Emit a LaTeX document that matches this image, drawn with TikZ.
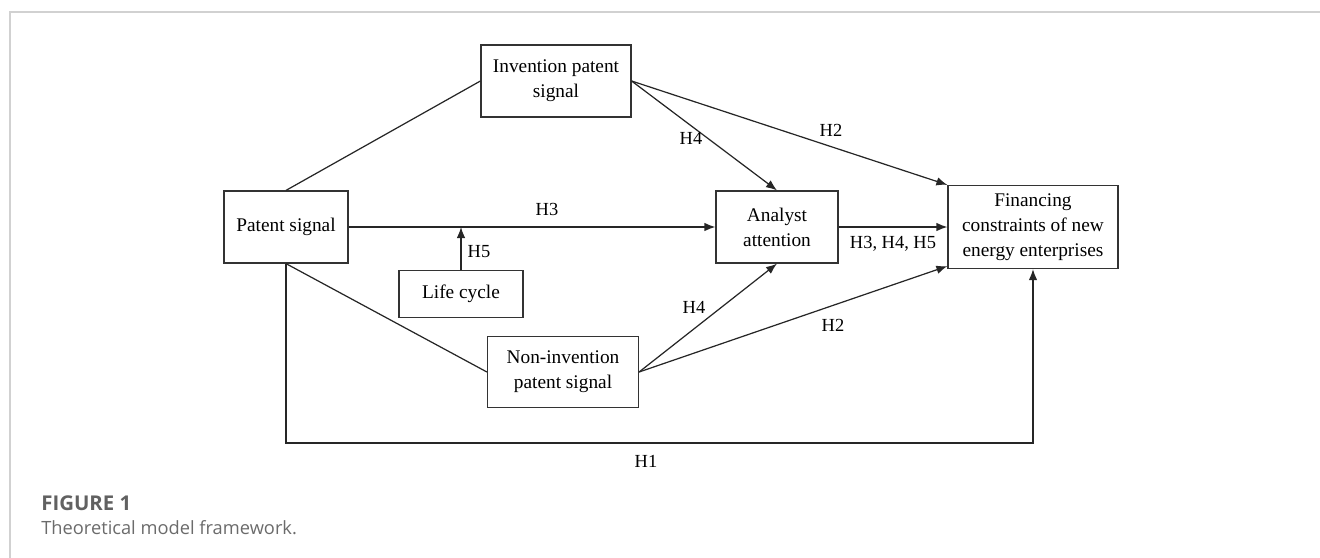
\documentclass[tikz,border=0pt]{standalone}
\usepackage{fontspec}
\setmainfont{Liberation Serif}
\newfontfamily\capfont{Open Sans}
\usetikzlibrary{arrows.meta}

\tikzset{
  box/.style={draw=black!80, line width=0.7pt, align=center, inner sep=2pt,
    font=\fontsize{11}{14.2}\selectfont},
  hyp/.style={font=\fontsize{10.5}{12}\selectfont, inner sep=1pt},
  link/.style={draw=black!85, line width=0.7pt},
  arr/.style={link, -{Latex[length=2.2mm,width=1.7mm]}},
}

\begin{document}
\begin{tikzpicture}[x=0.02cm, y=-0.02cm]
    \useasboundingbox (0,0) rectangle (1320,558);
    \draw[black!18, line width=0.6pt] (10,558) -- (10,12) -- (1320,12);

    % boxes
    \node[box, minimum width=2.48cm, minimum height=1.44cm] (ps) at (286,227) {Patent signal};
    \node[box, minimum width=3.0cm, minimum height=1.44cm] (inv) at (556,81) {Invention patent\\signal};
    \node[box, minimum width=2.44cm, minimum height=1.44cm] (ana) at (777,227) {Analyst\\attention};
    \node[box, minimum width=3.4cm, minimum height=1.66cm] (fin) at (1033,227) {Financing\\constraints of new\\energy enterprises};
    \node[box, minimum width=2.48cm, minimum height=0.94cm] (lc) at (461,294) {Life cycle};
    \node[box, minimum width=3.02cm, minimum height=1.42cm] (non) at (563,372) {Non-invention\\patent signal};

    \coordinate (mod) at (lc.north |- ps.east);
    \coordinate (low) at (646,443);

    % connectors
    \draw[link] (ps.north) -- (inv.west);
    \draw[link] (ps.south) -- (non.west);
    \draw[arr] (ps.east) -- (ana.west);
    \draw[arr] (lc.north) -- (mod);
    \draw[arr] (inv.east) -- (ana.north);
    \draw[arr] (inv.east) -- (fin.north west);
    \draw[arr] (ana.east) -- (fin.west);
    \draw[arr] (non.east) -- (ana.south);
    \draw[arr] (non.east) -- ([yshift=0.06cm]fin.south west);
    \draw[arr] (ps.south) |- (low) -| (fin.south);

    % hypotheses
    \node[hyp] (h3) at (547,209) {H3};
    \node[hyp] (h5) at (479,252) {H5};
    \node[hyp] (h4a) at (691,138) {H4};
    \node[hyp] (h2a) at (831,130) {H2};
    \node[hyp] (h345) at (893,244) {H3, H4, H5};
    \node[hyp] (h4b) at (694,307) {H4};
    \node[hyp] (h2b) at (833,325) {H2};
    \node[hyp] (h1) at (646,461) {H1};

    % caption
    \node[anchor=west, inner sep=0pt, text=black!62, font=\capfont\bfseries\fontsize{11.6}{13}\selectfont] (fig) at (41,503) {FIGURE 1};
    \node[anchor=west, inner sep=0pt, text=black!58, font=\capfont\fontsize{10.4}{12}\selectfont] (cap) at (41,528) {Theoretical model framework.};
\end{tikzpicture}
\end{document}
